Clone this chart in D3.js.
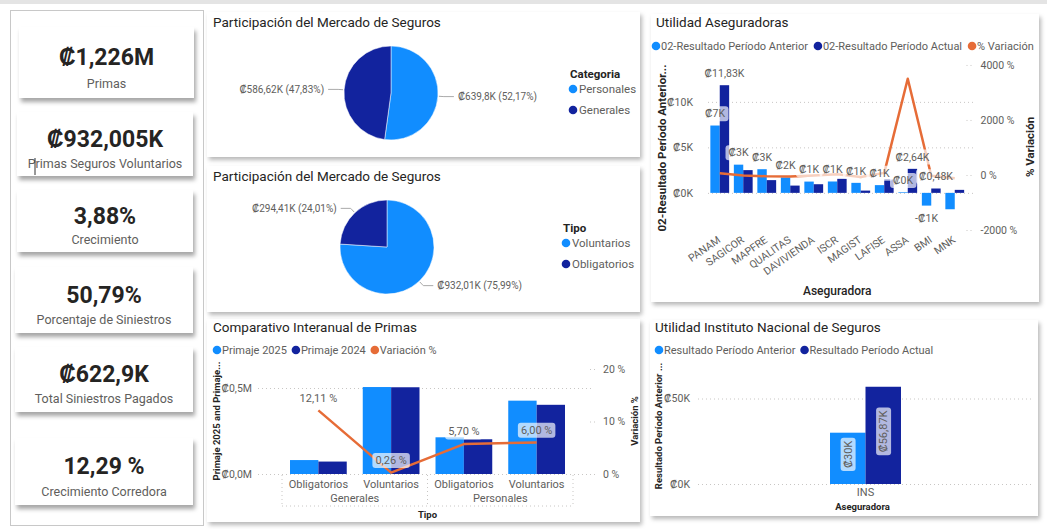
<!DOCTYPE html>
<html><head><meta charset="utf-8">
<script src="https://cdn.jsdelivr.net/npm/d3@7"></script>
<style>
body{margin:0;background:#fff;overflow:hidden}
svg text{font-family:Roboto,'Segoe UI',sans-serif}
</style></head>
<body><svg id="c" width="1047" height="529"></svg>
<script>
// ---------------- DATA ----------------
const kpiValues = ["₡1,226M","₡932,005K","3,88%","50,79%","₡622,9K","12,29 %"];
const kpiLabels = ["Primas","Primas Seguros Voluntarios","Crecimiento","Porcentaje de Siniestros","Total Siniestros Pagados","Crecimiento Corredora"];

const pie1Title = "Participación del Mercado de Seguros";
const pie1LegendTitle = "Categoria";
const pie1Categories = ["Personales","Generales"];
const pie1Values = [639.8, 586.62];
const pie1Labels = ["₡639,8K (52,17%)","₡586,62K (47,83%)"];

const pie2Title = "Participación del Mercado de Seguros";
const pie2LegendTitle = "Tipo";
const pie2Categories = ["Voluntarios","Obligatorios"];
const pie2Values = [932.01, 294.41];
const pie2Labels = ["₡932,01K (75,99%)","₡294,41K (24,01%)"];

const asegTitle = "Utilidad Aseguradoras";
const asegSeries = ["02-Resultado Período Anterior","02-Resultado Período Actual","% Variación"];
const aseguradoras = ["PANAM","SAGICOR","MAPFRE","QUALITAS","DAVIVIENDA","ISCR","MAGIST","LAFISE","ASSA","BMI","MNK"];
const resultadoAnterior = [7.4, 3.1, 2.6, 1.7, 1.24, 1.25, 1.1, 0.85, 0.07, -1.4, -1.8];   // ₡K
const resultadoActual   = [11.83, 2.5, 1.4, 0.8, 0.95, 1.54, 0.25, 1.5, 2.64, 0.48, 0.33]; // ₡K
const variacionPct      = [60, -19, -46, -53, -23, 23, -77, 76, 3500, -30, -118];          // %
const asegLabelCats   = ["PANAM","PANAM","SAGICOR","MAPFRE","QUALITAS","DAVIVIENDA","ISCR","MAGIST","LAFISE","ASSA","ASSA","BMI","BMI"];
const asegLabelSeries = ["actual","anterior","anterior","anterior","anterior","anterior","anterior","anterior","anterior","anterior","actual","actual","anterior"];
const asegLabelTexts  = ["₡11,83K","₡7K","₡3K","₡3K","₡2K","₡1K","₡1K","₡1K","₡1K","₡0K","₡2,64K","₡0,48K","-₡1K"];
const asegLeftTicks = [0,5,10];
const asegLeftTickLabels = ["₡0K","₡5K","₡10K"];
const asegRightTicks = [-2000,0,2000,4000];
const asegRightTickLabels = ["-2000 %","0 %","2000 %","4000 %"];
const asegYTitle = "02-Resultado Período Anterior...";
const asegY2Title = "% Variación";
const asegXTitle = "Aseguradora";

const compTitle = "Comparativo Interanual de Primas";
const compSeries = ["Primaje 2025","Primaje 2024","Variación %"];
const compGroups = ["Generales","Generales","Personales","Personales"];
const compTipos  = ["Obligatorios","Voluntarios","Obligatorios","Voluntarios"];
const primaje2025 = [0.0810, 0.5056, 0.2134, 0.4264]; // ₡M
const primaje2024 = [0.0723, 0.5043, 0.2019, 0.4023]; // ₡M
const compVariacion = [12.11, 0.26, 5.70, 6.00];       // %
const compVarLabels = ["12,11 %","0,26 %","5,70 %","6,00 %"];
const compLeftTicks = [0, 0.5];
const compLeftTickLabels = ["₡0,0M","₡0,5M"];
const compRightTicks = [0, 10, 20];
const compRightTickLabels = ["0 %","10 %","20 %"];
const compYTitle = "Primaje 2025 and Primaje...";
const compY2Title = "Variación %";
const compXTitle = "Tipo";

const insTitle = "Utilidad Instituto Nacional de Seguros";
const insSeries = ["Resultado Período Anterior","Resultado Período Actual"];
const insCategories = ["INS"];
const insAnterior = [30.0];   // ₡K
const insActual = [56.87];    // ₡K
const insLabels = [["₡30K"],["₡56,87K"]];
const insTicks = [0, 50];
const insTickLabels = ["₡0K","₡50K"];
const insYTitle = "Resultado Período Anterior ...";
const insXTitle = "Aseguradora";

// ---------------- STYLE ----------------
const COL = {light:"#118DFF", dark:"#12239E", orange:"#E66C37", text:"#605E5C", title:"#252423"};
const NUMFONT = "'DejaVu Sans Condensed','DejaVu Sans',sans-serif";

const svg = d3.select("#c");
const defs = svg.append("defs");
const f = defs.append("filter").attr("id","sh").attr("x","-5%").attr("y","-5%").attr("width","115%").attr("height","125%");
f.append("feDropShadow").attr("dx",2).attr("dy",3).attr("stdDeviation",2).attr("flood-color","#000").attr("flood-opacity",0.28);
const f2 = defs.append("filter").attr("id","sh2").attr("x","-5%").attr("y","-10%").attr("width","115%").attr("height","135%");
f2.append("feDropShadow").attr("dx",2).attr("dy",4).attr("stdDeviation",2).attr("flood-color","#000").attr("flood-opacity",0.35);

// top faint bar
svg.append("rect").attr("x",0).attr("y",0).attr("width",1047).attr("height",4).attr("fill","#e4e4e4");

function panel(x,y,w,h){
  svg.append("rect").attr("x",x).attr("y",y).attr("width",w).attr("height",h).attr("fill","#fff").attr("filter","url(#sh)");
}
function title(x,y,t){
  svg.append("text").attr("x",x).attr("y",y).attr("font-size",13.5).attr("fill",COL.title).text(t);
}
function legend(items, x0, y, gap){
  let x = x0;
  items.forEach(it=>{
    svg.append("circle").attr("cx",x+4).attr("cy",y).attr("r",4.3).attr("fill",it.c);
    const t = svg.append("text").attr("x",x+9).attr("y",y).attr("dy","0.35em").attr("font-size",11).attr("fill",COL.text).text(it.t);
    x += 9 + t.node().getComputedTextLength() + gap;
  });
}
function boxLabel(g, x, y, text, size, rotate){
  const gg = g.append("g").attr("transform",`translate(${x},${y})${rotate?" rotate("+rotate+")":""}`);
  const t = gg.append("text").attr("text-anchor","middle").attr("dy","0.35em").attr("font-size",size||10.5).attr("fill",COL.text).text(text);
  const bb = t.node().getBBox();
  gg.insert("rect","text").attr("x",bb.x-3).attr("y",bb.y-1).attr("width",bb.width+6).attr("height",bb.height+2)
    .attr("rx",3).attr("fill","#fff").attr("fill-opacity",0.68);
}
function axisTitle(x,y,text,size,weight){
  svg.append("text").attr("transform",`translate(${x},${y}) rotate(-90)`).attr("text-anchor","middle")
    .attr("dy","0.35em").attr("font-size",size).attr("font-weight",weight||"normal").attr("fill",COL.title).text(text);
}
function styleAxis(g){
  g.select(".domain").remove();
  g.selectAll(".tick line").attr("stroke","#c8c6c4").attr("stroke-dasharray","1,3");
  g.selectAll(".tick text").attr("fill",COL.text).attr("font-size",10.5).attr("font-family","Roboto,'Segoe UI',sans-serif");
}

// ---------------- LEFT KPI PANEL ----------------
svg.append("rect").attr("x",10.5).attr("y",10.5).attr("width",193).attr("height",515).attr("fill","#fff").attr("stroke","#c8c8c8");
const cardBoxes = [[19,27,175,71],[17,112,176,64],[17,190,176,62],[15,267,178,66],[15,347,178,65],[15,438,178,67]];
kpiValues.forEach((v,i)=>{
  const [x,y,w,h] = cardBoxes[i];
  svg.append("rect").attr("x",x).attr("y",y).attr("width",w).attr("height",h).attr("fill","#fff").attr("filter","url(#sh2)");
  svg.append("text").attr("x",x+w/2).attr("y",y+h*0.42).attr("dy","0.35em").attr("text-anchor","middle")
    .attr("font-family",NUMFONT).attr("font-weight","bold").attr("font-size",23).attr("fill","#252423").text(v);
  svg.append("text").attr("x",x+w/2).attr("y",y+h*0.8).attr("dy","0.35em").attr("text-anchor","middle")
    .attr("font-size",12.5).attr("fill",COL.text).text(kpiLabels[i]);
});
// text caret in second card
svg.append("line").attr("x1",35).attr("x2",35).attr("y1",158).attr("y2",175).attr("stroke","#333").attr("stroke-width",1);

// ---------------- PIE CHARTS ----------------
function pieChart(box, ttl, cats, vals, labels, legTitle, cx, cy, r, legX, legY){
  panel(...box);
  title(box[0]+6, box[1]+15, ttl);
  const g = svg.append("g").attr("transform",`translate(${cx},${cy})`);
  const arcs = d3.pie().sort(null).value(d=>d)(vals);
  const arc = d3.arc().innerRadius(0).outerRadius(r);
  const colors = [COL.light, COL.dark];
  g.selectAll("path").data(arcs).join("path").attr("d",arc).attr("fill",(d,i)=>colors[i]).attr("stroke","#fff").attr("stroke-width",0.5);
  arcs.forEach((a,i)=>{
    const m = (a.startAngle+a.endAngle)/2;
    const p1 = [Math.sin(m)*(r+1), -Math.cos(m)*(r+1)];
    const p2 = [Math.sin(m)*(r+6), -Math.cos(m)*(r+6)];
    const side = Math.sin(m) >= 0 ? 1 : -1;
    const p3 = [p2[0] + side*10, p2[1]];
    g.append("polyline").attr("points",[p1,p2,p3].map(p=>p.join(",")).join(" ")).attr("fill","none").attr("stroke","#aaa").attr("stroke-width",1);
    g.append("text").attr("x",p3[0]+side*4).attr("y",p3[1]).attr("dy","0.35em").attr("text-anchor",side>0?"start":"end")
      .attr("font-size",10).attr("fill",COL.text).text(labels[i]);
  });
  svg.append("text").attr("x",legX).attr("y",legY).attr("dy","0.35em").attr("font-size",11.5).attr("font-weight","bold").attr("fill",COL.title).text(legTitle);
  cats.forEach((c,i)=>{
    const y = legY + 15 + i*21;
    svg.append("circle").attr("cx",legX+3).attr("cy",y).attr("r",4.3).attr("fill",colors[i]);
    svg.append("text").attr("x",legX+9).attr("y",y).attr("dy","0.35em").attr("font-size",11.5).attr("fill",COL.text).text(c);
  });
}
pieChart([207,12,433,145], pie1Title, pie1Categories, pie1Values, pie1Labels, pie1LegendTitle, 391, 93, 47, 570, 74);
pieChart([207,166,433,146], pie2Title, pie2Categories, pie2Values, pie2Labels, pie2LegendTitle, 387, 247, 47, 563, 228);

// ---------------- UTILIDAD ASEGURADORAS ----------------
panel(651,14,388,288);
title(656,27,asegTitle);
legend([{t:asegSeries[0],c:COL.light},{t:asegSeries[1],c:COL.dark},{t:asegSeries[2],c:COL.orange}], 652, 46, 6);
{
  const L=708, R=966.5, T=60, B=232;
  const x0 = d3.scaleBand().domain(aseguradoras).range([L,R]).paddingInner(0.2).paddingOuter(0.1);
  const x1 = d3.scaleBand().domain(["anterior","actual"]).range([0,x0.bandwidth()]);
  const yL = d3.scaleLinear().domain([-4.3,14.6]).range([B,T]);
  const yR = d3.scaleLinear().domain([-2073,4180]).range([B,T]);
  const g = svg.append("g");
  const ax = g.append("g").attr("transform",`translate(${L},0)`)
    .call(d3.axisLeft(yL).tickValues(asegLeftTicks).tickFormat((d,i)=>asegLeftTickLabels[i]).tickSize(-(973-L)).tickPadding(15));
  styleAxis(ax);
  const ax2 = g.append("g").attr("transform",`translate(${R},0)`)
    .call(d3.axisRight(yR).tickValues(asegRightTicks).tickFormat((d,i)=>asegRightTickLabels[i]).tickSize(8).tickPadding(6));
  styleAxis(ax2);
  const rows = aseguradoras.map((c,i)=>({c, anterior:resultadoAnterior[i], actual:resultadoActual[i], v:variacionPct[i]}));
  const gb = g.append("g");
  rows.forEach(r=>{
    ["anterior","actual"].forEach(k=>{
      const v = r[k];
      gb.append("rect").attr("x",x0(r.c)+x1(k)).attr("width",x1.bandwidth())
        .attr("y",yL(Math.max(0,v))).attr("height",Math.abs(yL(v)-yL(0)))
        .attr("fill",k==="anterior"?COL.light:COL.dark);
    });
  });
  g.append("path").datum(rows).attr("fill","none").attr("stroke",COL.orange).attr("stroke-width",2.5).attr("stroke-linejoin","round")
    .attr("d",d3.line().x(d=>x0(d.c)+x0.bandwidth()/2).y(d=>yR(d.v)));
  const gl = g.append("g");
  asegLabelTexts.forEach((t,i)=>{
    const r = rows[aseguradoras.indexOf(asegLabelCats[i])];
    const k = asegLabelSeries[i];
    const v = r[k];
    const x = x0(r.c)+x1(k)+x1.bandwidth()/2;
    const y = v>=0 ? yL(v)-12 : yL(v)+13;
    boxLabel(gl, x, y, t, 10.5);
  });
  // x labels
  aseguradoras.forEach(c=>{
    g.append("text").attr("transform",`translate(${x0(c)+x0.bandwidth()/2-3},${B+3}) rotate(-35)`)
      .attr("text-anchor","end").attr("dy","0.75em").attr("font-size",10.5).attr("fill",COL.text).text(c);
  });
  g.append("text").attr("x",(L+R)/2).attr("y",291).attr("dy","0.35em").attr("text-anchor","middle").attr("font-size",12).attr("font-weight",500).attr("fill",COL.title).text(asegXTitle);
  axisTitle(662,148,asegYTitle,11.5,"bold");
  axisTitle(1030,147,asegY2Title,11.5,"bold");
}

// ---------------- COMPARATIVO ----------------
panel(207,319,433,203);
title(213,332,compTitle);
legend([{t:compSeries[0],c:COL.light},{t:compSeries[1],c:COL.dark},{t:compSeries[2],c:COL.orange}], 213, 350, 5);
{
  const L=282, R=573, T=364, B=474;
  const keys = compTipos.map((t,i)=>compGroups[i]+"|"+t);
  const x0 = d3.scaleBand().domain(keys).range([L,R]).paddingInner(0.22).paddingOuter(0.11);
  const x1 = d3.scaleBand().domain(["p25","p24"]).range([0,x0.bandwidth()]);
  const yL = d3.scaleLinear().domain([0,(B-T)/172]).range([B,T]);
  const yR = d3.scaleLinear().domain([0,(B-T)/5.25]).range([B,T]);
  const g = svg.append("g");
  const ax = g.append("g").attr("transform",`translate(258,0)`)
    .call(d3.axisLeft(yL).tickValues(compLeftTicks).tickFormat((d,i)=>compLeftTickLabels[i]).tickSize(-(593-258)).tickPadding(6));
  styleAxis(ax);
  const ax2 = g.append("g").attr("transform",`translate(590,0)`)
    .call(d3.axisRight(yR).tickValues(compRightTicks).tickFormat((d,i)=>compRightTickLabels[i]).tickSize(7).tickPadding(6));
  styleAxis(ax2);
  const rows = keys.map((k,i)=>({k, p25:primaje2025[i], p24:primaje2024[i], v:compVariacion[i]}));
  rows.forEach(r=>{
    ["p25","p24"].forEach(s=>{
      g.append("rect").attr("x",x0(r.k)+x1(s)).attr("width",x1.bandwidth()).attr("y",yL(r[s])).attr("height",yL(0)-yL(r[s]))
        .attr("fill",s==="p25"?COL.light:COL.dark);
    });
  });
  g.append("path").datum(rows).attr("fill","none").attr("stroke",COL.orange).attr("stroke-width",2.5).attr("stroke-linejoin","round")
    .attr("d",d3.line().x(d=>x0(d.k)+x0.bandwidth()/2).y(d=>yR(d.v)));
  rows.forEach((r,i)=>boxLabel(g, x0(r.k)+x0.bandwidth()/2, yR(r.v)-12.5, compVarLabels[i], 11));
  // hierarchical axis
  const dot = {stroke:"#c8c6c4","stroke-dasharray":"1,3"};
  const sepX = [L, (x0(keys[1])+x0.bandwidth()+x0(keys[2]))/2, R];
  sepX.forEach(x=>g.append("line").attr("x1",x).attr("x2",x).attr("y1",B+1).attr("y2",506).attr("stroke",dot.stroke).attr("stroke-dasharray",dot["stroke-dasharray"]));
  g.append("line").attr("x1",L).attr("x2",R).attr("y1",506).attr("y2",506).attr("stroke",dot.stroke).attr("stroke-dasharray",dot["stroke-dasharray"]);
  rows.forEach((r,i)=>g.append("text").attr("x",x0(r.k)+x0.bandwidth()/2).attr("y",484).attr("dy","0.35em").attr("text-anchor","middle").attr("font-size",11).attr("fill",COL.text).text(compTipos[i]));
  const groups = Array.from(new Set(compGroups));
  groups.forEach((gname,gi)=>{
    g.append("text").attr("x",(sepX[gi]+sepX[gi+1])/2).attr("y",498).attr("dy","0.35em").attr("text-anchor","middle").attr("font-size",11).attr("fill",COL.text).text(gname);
  });
  g.append("text").attr("x",(L+R)/2).attr("y",515).attr("dy","0.35em").attr("text-anchor","middle").attr("font-size",9.5).attr("font-weight","bold").attr("fill",COL.title).text(compXTitle);
  axisTitle(217,421,compYTitle,9.5,"bold");
  axisTitle(635,421,compY2Title,9.5,"bold");
}

// ---------------- INS ----------------
panel(650,320,388,196);
title(655,332,insTitle);
legend([{t:insSeries[0],c:COL.light},{t:insSeries[1],c:COL.dark}], 655, 350, 5);
{
  const L=698, R=1033, T=375, B=484;
  const x0 = d3.scaleBand().domain(insCategories).range([L,R]).paddingOuter(1.86);
  const x1 = d3.scaleBand().domain(["ant","act"]).range([0,x0.bandwidth()]);
  const y = d3.scaleLinear().domain([0,(B-T)/1.71]).range([B,T]);
  const g = svg.append("g");
  const ax = g.append("g").attr("transform",`translate(${L},0)`)
    .call(d3.axisLeft(y).tickValues(insTicks).tickFormat((d,i)=>insTickLabels[i]).tickSize(-(R-L)).tickPadding(8));
  styleAxis(ax);
  insCategories.forEach((c,i)=>{
    [["ant",insAnterior[i],COL.light,insLabels[0][i]],["act",insActual[i],COL.dark,insLabels[1][i]]].forEach(([k,v,col,lab])=>{
      g.append("rect").attr("x",x0(c)+x1(k)).attr("width",x1.bandwidth()).attr("y",y(v)).attr("height",y(0)-y(v)).attr("fill",col);
    });
    [["ant",insAnterior[i],insLabels[0][i]],["act",insActual[i],insLabels[1][i]]].forEach(([k,v,lab])=>{
      boxLabel(g, x0(c)+x1(k)+x1.bandwidth()/2, (y(v)+y(0))/2-4, lab, 11, -90);
    });
    g.append("text").attr("x",x0(c)+x0.bandwidth()/2).attr("y",492).attr("dy","0.35em").attr("text-anchor","middle").attr("font-size",11).attr("fill",COL.text).text(c);
  });
  g.append("text").attr("x",(L+R)/2-3).attr("y",507).attr("dy","0.35em").attr("text-anchor","middle").attr("font-size",9.5).attr("font-weight","bold").attr("fill",COL.title).text(insXTitle);
  axisTitle(659,426,insYTitle,9.5,"bold");
}
</script></body></html>
